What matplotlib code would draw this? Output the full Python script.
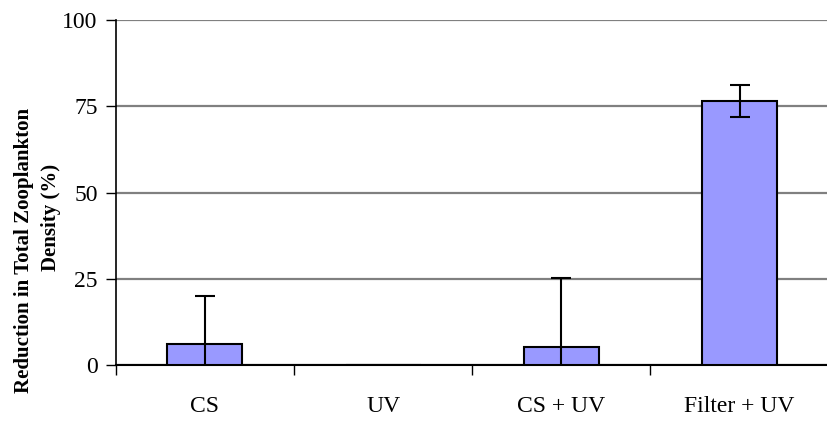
import matplotlib
matplotlib.use("Agg")
import matplotlib.pyplot as plt
import numpy as np

categories = ["CS", "UV", "CS + UV", "Filter + UV"]
values = [6.1, 0.0, 5.2, 76.5]
errors = [14.0, 0.0, 20.0, 4.6]
yticks = [0, 25, 50, 75, 100]
ylabel_lines = ["Reduction in Total Zooplankton", "Density (%)"]

plt.rcParams['font.family'] = ['Liberation Serif', 'DejaVu Serif']

fig = plt.figure(figsize=(8.27, 4.28), dpi=100)
ax = fig.add_axes([0.140, 0.147, 0.862, 0.806])

x = np.arange(len(categories)) + 0.5
bars = ax.bar(x, values, width=0.42, color="#9999FF", edgecolor="black",
              linewidth=1.5, zorder=3)
for xi, v, e in zip(x, values, errors):
    if e > 0:
        ax.errorbar(xi, v, yerr=e, fmt="none", ecolor="black", elinewidth=1.5,
                    capsize=7, capthick=1.5, zorder=4)

ax.set_xlim(0, 4)
ax.set_ylim(0, 100)
ax.set_yticks(yticks)
ax.set_yticklabels([str(t) for t in yticks], fontsize=17)
ax.yaxis.grid(True, color="#808080", linewidth=1.6, zorder=0)
ax.set_axisbelow(True)

ax.set_xticks([0, 1, 2, 3, 4])
ax.set_xticklabels([])
ax.set_xticks(x, minor=True)
ax.set_xticklabels(categories, minor=True, fontsize=17)
ax.tick_params(axis="x", which="minor", length=0, pad=22)
ax.tick_params(axis="x", which="major", length=7, width=1, direction="out")
ax.tick_params(axis="y", length=7, width=1, direction="out", pad=6)

for s in ["top", "right"]:
    ax.spines[s].set_visible(False)
ax.spines["left"].set_linewidth(1.2)
ax.spines["bottom"].set_linewidth(1.5)

fig.text(0.029, 0.416, ylabel_lines[0], rotation=90, ha="center", va="center",
         fontsize=15, fontweight="bold")
fig.text(0.062, 0.493, ylabel_lines[1], rotation=90, ha="center", va="center",
         fontsize=15, fontweight="bold")

fig.savefig("out.png", dpi=100)
